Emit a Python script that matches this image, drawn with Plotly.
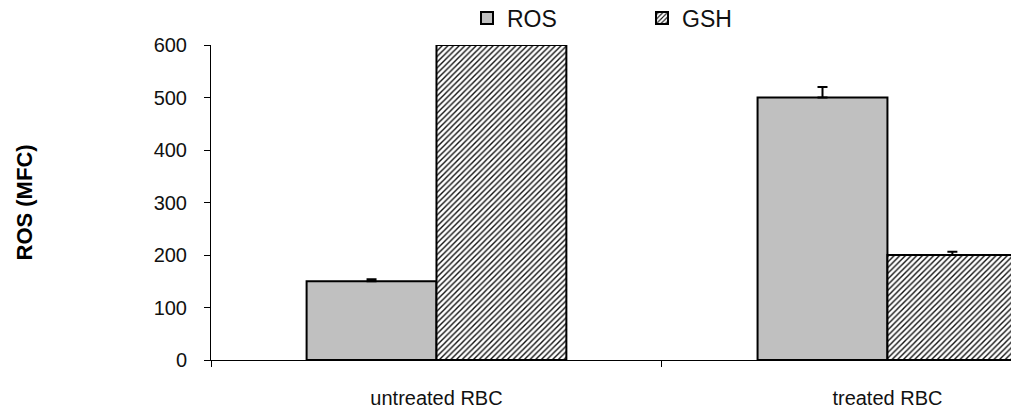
import plotly.graph_objects as go

categories = ["untreated RBC", "treated RBC"]
ros_values = [150, 500]
ros_errors = [4, 20]
gsh_values = [600, 200]
gsh_errors = [0, 6]
y_ticks = [0, 100, 200, 300, 400, 500, 600]

FONT = "Arial, Liberation Sans, sans-serif"

fig = go.Figure()
fig.add_trace(go.Bar(
    name="ROS", x=categories, y=ros_values,
    marker=dict(color="#C0C0C0", line=dict(color="black", width=2)),
    error_y=dict(type="data", array=ros_errors, arrayminus=[0] * len(ros_errors),
                 symmetric=False, color="black", thickness=2, width=5),
))
fig.add_trace(go.Bar(
    name="GSH", x=categories, y=gsh_values,
    marker=dict(color="white", line=dict(color="black", width=2),
                pattern=dict(shape="/", size=4, solidity=0.35,
                             fgcolor="#111111", bgcolor="white", fillmode="replace")),
    error_y=dict(type="data", array=gsh_errors, arrayminus=[0] * len(gsh_errors),
                 symmetric=False, color="black", thickness=2, width=5),
))

fig.update_layout(
    width=1011, height=409,
    margin=dict(l=211, r=0, t=45, b=49, autoexpand=False),
    paper_bgcolor="white", plot_bgcolor="white",
    barmode="group", bargap=0.424, bargroupgap=0,
    font=dict(family=FONT, color="#111111"),
    showlegend=True,
    legend=dict(orientation="h", x=0.32, xanchor="left",
                yref="container", y=1 - 18 / 409, yanchor="middle",
                font=dict(size=23, family=FONT, color="#111111"),
                entrywidth=130, entrywidthmode="pixels",
                itemwidth=30, bgcolor="rgba(0,0,0,0)"),
    xaxis=dict(type="category", range=[-0.5, 1.274], showline=True,
               linecolor="black", linewidth=1, tickson="boundaries",
               ticks="outside", ticklen=6, tickcolor="black", tickwidth=1,
               tickfont=dict(size=20, family=FONT, color="#111111"),
               showgrid=False, zeroline=False, fixedrange=True,
               ticklabelstandoff=20),
    yaxis=dict(range=[0, 600], tickvals=y_ticks, showline=True,
               linecolor="black", linewidth=1, ticks="outside", ticklen=6,
               tickcolor="black", tickwidth=1, showgrid=False, zeroline=False,
               tickfont=dict(size=20, family=FONT, color="#111111"),
               ticklabelstandoff=13),
    annotations=[dict(text="<b>ROS (MFC)</b>", xref="paper", yref="paper",
                      x=(24 - 211) / 800, y=0.5, textangle=-90, showarrow=False,
                      xanchor="center", yanchor="middle",
                      font=dict(size=22, family=FONT, color="black"))],
)

fig.write_html("out.html")
